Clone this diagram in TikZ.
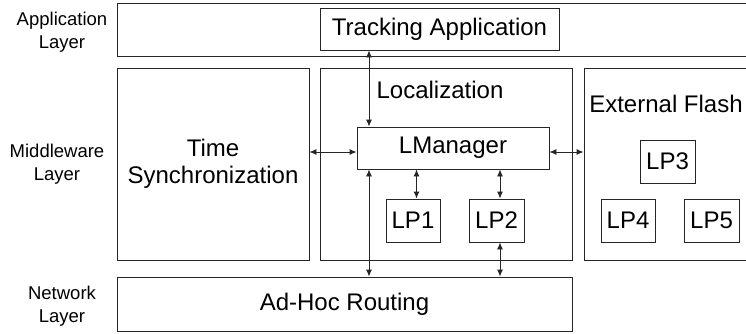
\documentclass[tikz,border=0pt]{standalone}
\usepackage{fontspec}
\setmainfont{Liberation Sans}
\usetikzlibrary{arrows.meta}
\begin{document}
\begin{tikzpicture}[x=1pt,y=-1pt,
  box/.style={draw=black!85,line width=0.9pt,rectangle,inner sep=0pt,minimum width=#1},
  small/.style={font=\fontsize{18.5}{23}\selectfont,align=center,inner sep=0pt},
  big/.style={font=\fontsize{24}{27}\selectfont,align=center,inner sep=0pt},
  arr/.style={draw=black!85,line width=0.9pt,{Latex[length=7pt,width=6pt]}-{Latex[length=7pt,width=6pt]}}]
\useasboundingbox (0,0) rectangle (746,333);
\clip (0,0) rectangle (746,333);
% layer boxes
\node[box=643, minimum height=53] (applayer) at (438.5,29.5) {};
\node[box=192, minimum height=192] (timesync) at (213,164) {};
\node[box=252, minimum height=192] (loc) at (446,164) {};
\node[box=176, minimum height=192] (ext) at (672,164) {};
\node[box=455, minimum height=54] (adhoc) at (344.5,304) {};
% inner boxes
\node[box=239, minimum height=42, fill=white] (track) at (439.5,29) {};
\node[box=192, minimum height=42] (lman) at (453,148) {};
\node[box=54, minimum height=43] (lp1) at (413,220.5) {};
\node[box=55, minimum height=43] (lp2) at (496.5,220.5) {};
\node[box=55, minimum height=43] (lp3) at (667.5,161.5) {};
\node[box=54, minimum height=43] (lp4) at (628,220.5) {};
\node[box=55, minimum height=43] (lp5) at (711.5,220.5) {};
% texts
\node[big] (ttrack) at (track.center) {Tracking Application};
\node[big] (tlman) at (lman.center) {LManager};
\node[big] (tlp1) at (lp1.center) {LP1};
\node[big] (tlp2) at (lp2.center) {LP2};
\node[big] (tlp3) at (lp3.center) {LP3};
\node[big] (tlp4) at (lp4.center) {LP4};
\node[big] (tlp5) at (lp5.center) {LP5};
\node[big] (tloc) at (440,90) {Localization};
\node[big] (text) at (666,104) {External Flash};
\node[big] (ttime) at (213,164) {Time\\Synchronization};
\node[big] (tadhoc) at (adhoc.center) {Ad-Hoc Routing};
\node[small] (lapp) at (62,32) {Application\\Layer};
\node[small] (lmid) at (57,164) {Middleware\\Layer};
\node[small] (lnet) at (62,306) {Network\\Layer};
% connectors
\coordinate (xa) at (369,0);
\coordinate (xb) at (416.5,0);
\coordinate (xc) at (500,0);
\coordinate (yh) at (0,152);
\draw[arr] (track.south -| xa) -- (lman.north -| xa);
\draw[arr] (lman.south -| xa) -- (adhoc.north -| xa);
\draw[arr] (lman.south -| xb) -- (lp1.north -| xb);
\draw[arr] (lman.south -| xc) -- (lp2.north -| xc);
\draw[arr] (lp2.south -| xc) -- (adhoc.north -| xc);
\draw[arr] (timesync.east |- yh) -- (lman.west |- yh);
\draw[arr] (lman.east |- yh) -- (ext.west |- yh);
\end{tikzpicture}
\end{document}
